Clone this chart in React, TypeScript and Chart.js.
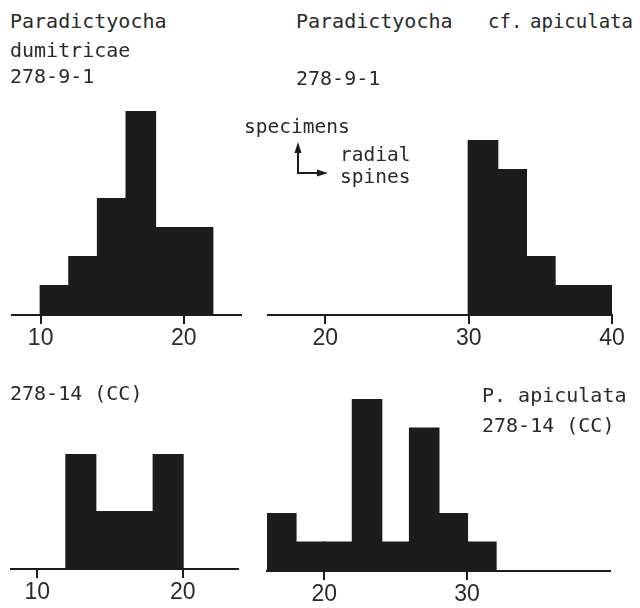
import React, { useEffect, useRef } from "react";
import { Chart, registerables } from "chart.js";

Chart.register(...registerables);

// ---- data ----
const tlBins = [11, 13, 15, 17, 19, 21];
const tlCounts = [1, 2, 4, 7, 3, 3];
const tlTicks = [10, 20];

const trBins = [31, 33, 35, 37, 39];
const trCounts = [6, 5, 2, 1, 1];
const trTicks = [20, 30, 40];

const blBins = [13, 15, 17, 19];
const blCounts = [4, 2, 2, 4];
const blTicks = [10, 20];

const brBins = [17, 19, 21, 23, 25, 27, 29, 31];
const brCounts = [2, 1, 1, 6, 1, 5, 2, 1];
const brTicks = [20, 30];

const INK = "#1c1c1c";
const TEXT = "#2a2a2a";
const MONO = "'DejaVu Sans Mono', monospace";

type PanelProps = {
  bins: number[];
  counts: number[];
  ticks: number[];
  xMin: number;
  xMax: number;
  axisLeft: number;
  axisRight: number;
  axisY: number;
  yMax: number;
  unit: number;
};

const PAD = 20;
const PAD_TOP = 4;
const X_AXIS_H = 40;
const TICK_LEN = 9;

// tick marks at the x scale's own tick positions
const tickMarks = {
  id: "tickMarks",
  afterDraw(chart: any) {
    const s = chart.scales.x;
    const ctx = chart.ctx;
    ctx.save();
    ctx.strokeStyle = INK;
    ctx.lineWidth = 2;
    s.ticks.forEach((_t: any, i: number) => {
      const px = Math.round(s.getPixelForTick(i));
      ctx.beginPath();
      ctx.moveTo(px, s.top);
      ctx.lineTo(px, s.top + TICK_LEN);
      ctx.stroke();
    });
    ctx.restore();
  },
};

function Panel(p: PanelProps) {
  const ref = useRef<HTMLCanvasElement>(null);
  const plotH = p.yMax * p.unit;
  const width = p.axisRight - p.axisLeft + 2 * PAD;
  const height = PAD_TOP + plotH + X_AXIS_H;
  const left = p.axisLeft - PAD;
  const top = p.axisY - plotH - PAD_TOP;

  useEffect(() => {
    if (!ref.current) return;
    const chart = new Chart(ref.current, {
      type: "bar",
      data: {
        datasets: [
          {
            data: p.bins.map((b, i) => ({ x: b, y: p.counts[i] })),
            backgroundColor: INK,
            borderWidth: 0,
            inflateAmount: 1,
            barPercentage: 1,
            categoryPercentage: 1,
          },
        ],
      },
      plugins: [tickMarks],
      options: {
        animation: false,
        responsive: false,
        devicePixelRatio: 1,
        layout: { padding: { left: PAD, right: PAD, top: PAD_TOP, bottom: 0 } },
        plugins: { legend: { display: false }, tooltip: { enabled: false }, title: { display: false } },
        scales: {
          x: {
            type: "linear",
            min: p.xMin,
            max: p.xMax,
            offset: false,
            afterBuildTicks: (s: any) => {
              s.ticks = p.ticks.map((v) => ({ value: v }));
            },
            afterFit: (s: any) => {
              s.height = X_AXIS_H;
            },
            grid: {
              offset: false,
              drawOnChartArea: false,
              drawTicks: true,
              tickLength: TICK_LEN,
              color: INK,
              tickColor: INK,
              lineWidth: 2,
              tickWidth: 2,
            },
            border: { display: true, color: INK, width: 2 },
            ticks: {
              autoSkip: false,
              maxRotation: 0,
              padding: 1,
              color: TEXT,
              font: { family: "'Liberation Sans', Arial, sans-serif", size: 23 },
              callback: (v: any) => String(v),
            },
          },
          y: {
            display: false,
            min: 0,
            max: p.yMax,
          },
        },
      },
    });
    return () => chart.destroy();
  }, []);

  return (
    <canvas
      ref={ref}
      width={width}
      height={height}
      style={{ position: "absolute", left, top, width, height }}
    />
  );
}

function Label({ x, baseline, text, size = 20 }: { x: number; baseline: number; text: string; size?: number }) {
  return (
    <div
      style={{
        position: "absolute",
        left: x,
        top: baseline - 0.846 * size,
        fontFamily: MONO,
        fontSize: size,
        lineHeight: `${size}px`,
        whiteSpace: "pre",
        color: TEXT,
      }}
    >
      {text}
    </div>
  );
}

export default function App() {
  return (
    <div
      style={{
        position: "fixed",
        left: 0,
        top: 0,
        width: 640,
        height: 608,
        background: "#fff",
        overflow: "hidden",
      }}
    >
      <Panel bins={tlBins} counts={tlCounts} ticks={tlTicks} xMin={8} xMax={24} axisLeft={12} axisRight={241} axisY={315} yMax={8} unit={29} />
      <Panel bins={trBins} counts={trCounts} ticks={trTicks} xMin={16} xMax={40} axisLeft={268} axisRight={612} axisY={315} yMax={8} unit={29} />
      <Panel bins={blBins} counts={blCounts} ticks={blTicks} xMin={8.2} xMax={23.8} axisLeft={11} axisRight={238} axisY={569} yMax={8} unit={28.5} />
      <Panel bins={brBins} counts={brCounts} ticks={brTicks} xMin={16} xMax={40} axisLeft={267} axisRight={610} axisY={571} yMax={8} unit={28.5} />

      <Label x={10} baseline={28} text="Paradictyocha" />
      <Label x={10} baseline={57} text="dumitricae" />
      <Label x={10} baseline={83} text="278-9-1" />

      <Label x={296} baseline={28} text="Paradictyocha" />
      <Label x={488} baseline={28} text="cf." size={19} />
      <Label x={530} baseline={28} text="apiculata" size={19} />
      <Label x={296} baseline={85} text="278-9-1" />

      <Label x={244} baseline={133} text="specimens" size={19.5} />
      <Label x={340} baseline={161} text="radial" size={19.5} />
      <Label x={340} baseline={183} text="spines" size={19.5} />
      <svg style={{ position: "absolute", left: 0, top: 0 }} width={640} height={608}>
        <line x1={298} y1={174} x2={298} y2={152} stroke={INK} strokeWidth={2} />
        <polygon points="298,142 294.5,153 301.5,153" fill={INK} />
        <line x1={297} y1={173} x2={318} y2={173} stroke={INK} strokeWidth={2} />
        <polygon points="328,173 317,169.5 317,176.5" fill={INK} />
      </svg>

      <Label x={10} baseline={400} text="278-14 (CC)" />
      <Label x={482} baseline={402} text="P. apiculata" />
      <Label x={482} baseline={432} text="278-14 (CC)" />
    </div>
  );
}
